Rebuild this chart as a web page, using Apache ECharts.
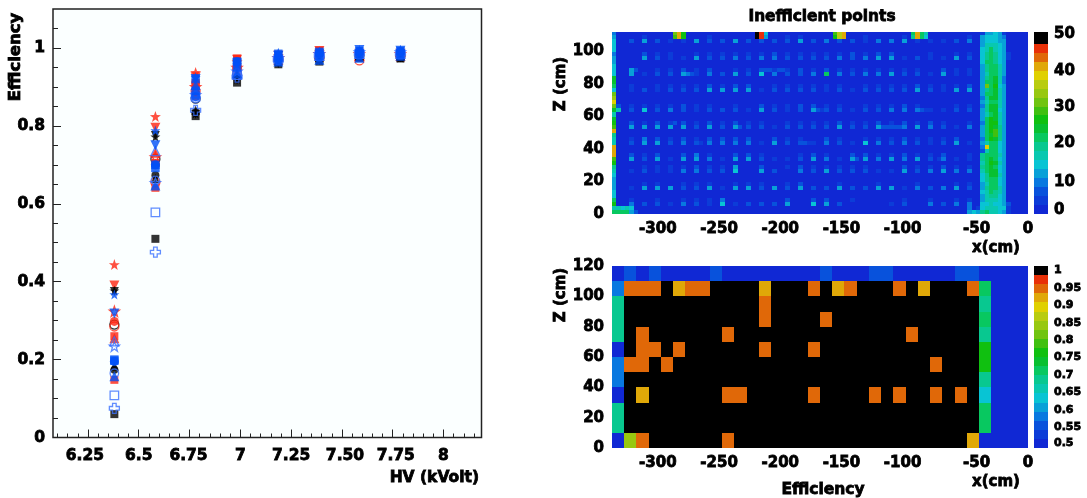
<!DOCTYPE html>
<html>
<head>
<meta charset="utf-8">
<script src="https://cdn.jsdelivr.net/npm/echarts@6/dist/echarts.min.js"></script>
<style>
html,body{margin:0;padding:0;background:#fff;}
#c{width:1087px;height:498px;filter:blur(0.4px);}
</style>
</head>
<body>
<div id="c"></div>
<script>
// ---------- left panel: efficiency vs HV ----------
const hv = [6.38, 6.582, 6.78, 6.984, 7.187, 7.389, 7.586, 7.788];
const blackSquare    = [.06,.51,.825,.911,.958,.965,.975,.973];
const blackInvTri    = [.375,.775,.83,.918,.96,.968,.978,.975];
const blackStar      = [.377,.772,.832,.92,.965,.97,.98,.975];
const blackTriangle  = [.183,.665,.84,.93,.97,.975,.98,.98];
const blackCircle    = [.174,.673,.835,.925,.965,.97,.98,.975];
const blackOpenCircle= [.29,.715,.87,.93,.97,.975,.98,.98];
const redOpenStar    = [.324,.72,.9,.95,.975,.985,.985,.985];
const redOpenCircle  = [.285,.655,.89,.945,.97,.975,.968,.98];
const redStar        = [.444,.824,.937,.965,.98,.99,.985,.985];
const redInvTri      = [.39,.795,.925,.97,.98,.992,.985,.985];
const redSquare      = [.26,.705,.91,.973,.975,.993,.985,.98];
const redSquareLow   = [.148,.641,.877,.94,.97,.975,.975,.975];
const redCircle      = [.298,.7,.91,.955,.97,.98,.98,.98];
const redTriangle    = [.255,.731,.895,.95,.97,.98,.98,.98];
const blueOpenCross  = [.075,.476,.84,.925,.97,.98,.985,.985];
const blueOpenSquare = [.108,.578,.875,.93,.97,.98,.985,.985];
const blueOpenStar   = [.234,.654,.88,.94,.975,.985,.99,.99];
const blueOpenTri    = [.247,.735,.885,.945,.975,.98,.985,.985];
const blueOpenCircle = [.165,.66,.87,.93,.975,.98,.99,.985];
const blueSquare     = [.2,.692,.89,.95,.975,.98,.985,.985];
const blueSquareHigh = [.197,.7,.92,.965,.985,.99,.992,.992];
const blueCircle     = [.195,.7,.875,.965,.97,.985,.99,.99];
const blueTriangle   = [.157,.647,.905,.935,.965,.97,.975,.98];
const blueInvTri     = [.318,.75,.92,.96,.98,.985,.995,.993];
const blueStar       = [.367,.788,.925,.958,.988,.99,.99,.995];

const hvTickValues = [6.25,6.5,6.75,7,7.25,7.5,7.75,8];
const hvLabelPos   = [6.235,6.5,6.745,7,7.25,7.515,7.765,8];
const hvLabelText  = ['6.25','6.5','6.75','7','7.25','7.50','7.75','8'];
const effTickValues = [0,.2,.4,.6,.8,1];

// ---------- top right panel: inefficient points (cells of 2 hits per character) ----------
const hitCols = 96, hitRows = 45, hitColCm = 340/96, hitRowCm = 2.5;
const hitDotRows = {
  42:'1363226336'+'3333634332'+'44522234',
  38:'1153225334'+'3443333434'+'66232253',
  34:'1623352435'+'374334a434'+'45332622',
  30:'1232333555'+'5233332323'+'33353255',
  25:'8373432333'+'2532353323'+'34442233',
  21:'1555553636'+'3323333533'+'63454324',
  17:'1366343444'+'4253324327'+'43432352',
  13:'1535255426'+'5322354255'+'45453422',
  10:'1232244337'+'1631436333'+'22634544',
  6: '1265533525'+'5353633633'+'55243453',
  2: '1433243272'+'3335176311'+'12314344'
};
const hitDotRowsUpper = {
  43:'1121121211'+'1212211212'+'11211112',
  39:'1132212222'+'2232222232'+'33112122',
  35:'1612232312'+'2322323222'+'22221322',
  31:'1212222323'+'3122222212'+'22232223',
  26:'3222232212'+'1322332212'+'22321122',
  22:'1323232323'+'2212222322'+'32323212',
  18:'1243232333'+'3132213212'+'22322231',
  14:'1323134213'+'3211232133'+'22322312',
  11:'1122223225'+'1312322222'+'11322322',
  7: '1122122212'+'2212311211'+'21121122',
  3: '1212122241'+'1113133121'+'11212122'
};
const hitLeftEdge = [20,16,26,22,14,14,12,12,12,14,16,18,26,28,40,42,40,16,16,18,42,28,26,24,16,24,30,38,34,30,14,22,24,24,14,14,14,12,12,8,13,14,13,12,8];
const hitBand = ['69a88762','27888772','17787763','16888761','16899751','178a9861','169aa861','168aa751','179ba761','179cc861','18acc751','19bcb751','18bdc851','19acb751','19bbb861','138bb761','14jba751','158ba751','14adc961','15ace961','15ade961','15bdc951','14bdd851','15adc861','158bc861','159cc761','149cc861','158bb851','149cc861','15abc861','159bc851','16gbd751','15abc841','159bc841','158bb851','169bb851','169ba851','17aa9751','179a9752','179a9752','178a8761','16888761','16777651','16777641','12657621'];
const hitCellsExtra = [[14,44,30],[15,44,40],[16,44,27],[33,44,50],[34,44,46],[35,44,13],[51,44,28],[52,44,37],[53,44,40],[69,44,20],[70,44,42],[71,44,22],[72,44,17],
  [14,43,28],[15,43,40],[16,43,25],[33,43,50],[34,43,46],[35,43,12],[51,43,26],[52,43,37],[53,43,40],[69,43,18],[70,43,42],[71,43,20],[72,43,14],
  [1,1,16],[2,1,14],[3,1,15],[4,1,13],[1,0,20],[2,0,22],[3,0,20],[4,0,10],[5,0,6],[82,0,12],[83,0,14],[82,1,8],
  [5,35,6],[35,35,6],[36,35,6],[38,35,6],[39,35,6],[17,34,8],[18,34,5],[62,21,6],[63,21,6],[65,21,6],[66,21,6],[14,22,5],[44,17,5],[45,17,4],[47,25,5],[48,25,4],[71,25,6],[72,25,4],[20,17,4],[56,13,6],[75,13,4],[29,21,5]];

// ---------- bottom right panel: efficiency map ----------
const effCodes = {'#':1,o:.94,g:.91,l:.83,b:.5,s:.56,u:.6,t:.68,e:.72,v:.76,c:.64};
const effRowsFromTop = [
 'bsbsbbbbsbbbbbbbbsbbbssbbbbbssbbbb',
 'uooo#goo####g###o#go###o#g###oebbb',
 't###########o#################tbbb',
 't###########o####o############ebbb',
 't#o######o##############o#####tbbb',
 'b#oo#o######o###o#############vbbb',
 'uoo#o#####################o###vbbb',
 'u#############################tbbb',
 'b#g######oo#####o####o#o##o#o#cbbb',
 't#############################ebbb',
 't#############################ebbb',
 'blo######o###################gbbbb'
];

// ---------- colour scale and its labels ----------
const palette = ['#1028d4','#0c3cd8','#0852dc','#0878e0','#08a0d8','#08c4d4','#08c8b0','#08c890','#08c860','#08c030','#10c010','#40c010','#70c410','#98c810','#b8cc10','#e0d000','#e0a808','#e06808','#e83008','#000000'];
const hitBarLabels = [0,10,20,30,40,50];
const hitBarLabelPos = [1.2,8.8,19.9,29.7,39.8,50.2];
const hitBarTicks = [10,20,30,40];
const effBarLabels = ['0.5','0.55','0.6','0.65','0.7','0.75','0.8','0.85','0.9','0.95','1'];
const effBarLabelPos = [.512,.5575,.6038,.6523,.7,.7491,.7956,.844,.8923,.9387,.989];
const effBarTicks = [.55,.6,.65,.7,.75,.8,.85,.9,.95];
const xcmLabelPos = [-302.5,-252.5,-202.5,-152.5,-102.5,-42,0];
const xcmLabelText = ['-300','-250','-200','-150','-100','-50','0'];
const zTopLabels = [0,20,40,60,80,100];
const zBottomLabels = [0,20,40,60,80,100,120];

// ---------- helpers ----------
const FONT = 'DejaVu Sans';
const txt = (size) => ({fontFamily:FONT,fontWeight:'bold',fontSize:size,color:'#000',textBorderColor:'#000',textBorderWidth:0.8});
const nearestText = (posList, textList) => (v) => {
  let best = 0;
  posList.forEach((p,i)=>{ if (Math.abs(p-v) < Math.abs(posList[best]-v)) best = i; });
  return String(textList[best]);
};
const stepList = (from,to,step) => { const out=[]; for (let i=0; from+i*step <= to+1e-9; i++) out.push(+(from+i*step).toFixed(4)); return out; };

const STAR = 'path://M5,0L6.18,3.38L9.76,3.46L6.9,5.62L7.94,9.05L5,7L2.06,9.05L3.1,5.62L0.24,3.46L3.82,3.38Z';
const CROSS = 'path://M3.2,0H6.8V3.2H10V6.8H6.8V10H3.2V6.8H0V3.2H3.2Z';
const RED='#ff2410', BLUE='#0050f8', OPENBLUE='#3a70ff', BLACK='#000';
const filled=(name,vals,color,symbol,size,rot)=>({name,vals,color,symbol,size:size||9,rot:rot||0,open:false});
const open=(name,vals,color,symbol,size)=>({name,vals,color,symbol,size:size||9,rot:0,open:true});
const scatterDefs = [
  open('black open circle',blackOpenCircle,BLACK,'circle'),
  open('red open star',redOpenStar,RED,STAR,10),
  open('red open circle',redOpenCircle,RED,'circle'),
  filled('red star',redStar,RED,STAR,11),
  filled('red down',redInvTri,RED,'triangle',10,180),
  filled('red square',redSquare,RED,'rect',8),
  filled('red square low',redSquareLow,RED,'rect',8),
  filled('red circle',redCircle,RED,'circle',9),
  filled('red triangle',redTriangle,RED,'triangle',10),
  filled('black square',blackSquare,BLACK,'rect',8),
  filled('black down',blackInvTri,BLACK,'triangle',9,180),
  filled('black star',blackStar,BLACK,STAR,10),
  filled('black triangle',blackTriangle,BLACK,'triangle',9),
  filled('black circle',blackCircle,BLACK,'circle',8),
  open('blue cross',blueOpenCross,OPENBLUE,CROSS,10),
  open('blue open square',blueOpenSquare,OPENBLUE,'rect',8.5),
  open('blue open star',blueOpenStar,OPENBLUE,STAR,10),
  open('blue open triangle',blueOpenTri,OPENBLUE,'triangle',9),
  open('blue open circle',blueOpenCircle,OPENBLUE,'circle',8.5),
  filled('blue square',blueSquare,BLUE,'rect',8.5),
  filled('blue square high',blueSquareHigh,BLUE,'rect',8.5),
  filled('blue circle',blueCircle,BLUE,'circle',9),
  filled('blue triangle',blueTriangle,BLUE,'triangle',10),
  filled('blue down',blueInvTri,BLUE,'triangle',10,180),
  filled('blue star',blueStar,BLUE,STAR,10)
];
const scatterSeries = scatterDefs.map((d,i)=>({
  type:'scatter', name:d.name, xAxisIndex:0, yAxisIndex:0, z:2+i*0.01,
  symbol:d.symbol, symbolSize:d.size, symbolRotate:d.rot,
  data:hv.map((x,k)=>[x,d.vals[k]]),
  itemStyle:d.open?{color:'transparent',borderColor:d.color,borderWidth:1.3}:{color:d.color}
}));

// build cells
const hitGrid = [];
for (let b=0;b<hitRows;b++){ hitGrid.push(new Array(hitCols).fill(1)); }
const applyDots = (rows)=>Object.keys(rows).forEach(b=>{
  [...rows[b]].forEach((ch,k)=>{ hitGrid[+b][1+3*k] = parseInt(ch,36)*2; });
});
applyDots(hitDotRows); applyDots(hitDotRowsUpper);
hitLeftEdge.forEach((v,b)=>{ hitGrid[b][0]=v; });
hitBand.forEach((s,b)=>{ [...s].forEach((ch,k)=>{ hitGrid[b][84+k]=parseInt(ch,36)*2; }); });
hitCellsExtra.forEach(([c,b,v])=>{ hitGrid[b][c]=v; });
const hitCells = [];
hitGrid.forEach((row,b)=>row.forEach((v,c)=>{
  hitCells.push([-340+c*hitColCm,-340+(c+1)*hitColCm,b*hitRowCm,(b+1)*hitRowCm,v]);
}));
const effCells = [];
effRowsFromTop.forEach((s,r)=>{
  const lo = 110-r*10;
  [...s].forEach((ch,c)=>effCells.push([-340+c*10,-330+c*10,lo,lo+10,effCodes[ch]]));
});
const hitBarCells = palette.map((_,i)=>[0,1,i*2.5,i===19?50.8:(i+1)*2.5,i*2.5+1]);
const effBarCells = palette.map((_,i)=>[0,1,.5+i*.025,.5+(i+1)*.025,.5+i*.025+.01]);

const hitColor = v=>palette[Math.min(19,Math.floor(v/2.5))];
const effColor = v=>palette[Math.min(19,Math.floor((v-.5)/.025))];
const renderCell = colorOf => (params,api)=>{
  const a = api.coord([api.value(0),api.value(2)]);
  const b = api.coord([api.value(1),api.value(3)]);
  const cs = params.coordSys;
  const x0=Math.round(a[0]), x1=Math.round(b[0]), y0=Math.round(b[1]), y1=Math.round(a[1]);
  const shape = echarts.graphic.clipRectByRect({x:x0,y:y0,width:x1-x0,height:y1-y0},{x:cs.x,y:cs.y,width:cs.width,height:cs.height});
  return shape && {type:'rect',shape,style:{fill:colorOf(api.value(4))}};
};
const cellSeries=(data,colorOf,xi,yi)=>({type:'custom',data,xAxisIndex:xi,yAxisIndex:yi,coordinateSystem:'cartesian2d',encode:{x:[0,1],y:[2,3]},renderItem:renderCell(colorOf),silent:true,progressive:0});

const hidden={show:false};
const baseAxis=(o)=>Object.assign({type:'value',splitLine:hidden,axisLine:{show:false,onZero:false},axisTick:hidden,axisLabel:hidden},o);
const tickLine={color:'#222',width:1};
const heatTick={color:'rgba(0,0,40,0.75)',width:1};
const titleStyle=(text,size,extra)=>Object.assign({text,align:'center',verticalAlign:'middle',font:'bold '+size+'px "DejaVu Sans"',fill:'#000',stroke:'#000',lineWidth:0.8},extra||{});

const option={
  animation:false,
  backgroundColor:'#fff',
  grid:[
    {left:53,top:9,width:428.5,height:428.5,show:true,backgroundColor:'#fbffff',borderColor:'#222',borderWidth:1.5},
    {left:612,top:32,width:416,height:182},
    {left:612,top:266,width:416,height:182},
    {left:1034,top:32,width:14,height:182},
    {left:1034,top:266,width:14,height:182}
  ],
  xAxis:[
    baseAxis({gridIndex:0,position:'bottom',min:6.078,max:8.187,
      axisTick:{show:true,inside:true,length:8,lineStyle:tickLine,customValues:hvTickValues},
      axisLabel:{show:true,margin:10,customValues:hvLabelPos,formatter:nearestText(hvLabelPos,hvLabelText),...txt(15.5)}}),
    baseAxis({gridIndex:0,position:'bottom',min:6.078,max:8.187,
      axisTick:{show:true,inside:true,length:4,lineStyle:tickLine,customValues:stepList(6.1,8.15,.05)}}),
    baseAxis({gridIndex:1,position:'bottom',min:-340,max:0,
      axisTick:{show:true,inside:true,length:3,lineStyle:heatTick,customValues:stepList(-330,-10,10)},
      axisLabel:{show:true,margin:8,customValues:xcmLabelPos,formatter:nearestText(xcmLabelPos,xcmLabelText),...txt(15)}}),
    baseAxis({gridIndex:2,position:'bottom',min:-340,max:0,
      axisTick:{show:true,inside:true,length:3,lineStyle:heatTick,customValues:stepList(-330,-10,10)},
      axisLabel:{show:true,margin:8,customValues:xcmLabelPos,formatter:nearestText(xcmLabelPos,xcmLabelText),...txt(15)}}),
    baseAxis({gridIndex:3,position:'bottom',min:0,max:1}),
    baseAxis({gridIndex:4,position:'bottom',min:0,max:1})
  ],
  yAxis:[
    baseAxis({gridIndex:0,position:'left',min:0,max:1.1,
      axisTick:{show:true,inside:true,length:8,lineStyle:tickLine,customValues:effTickValues},
      axisLabel:{show:true,margin:8,customValues:effTickValues,formatter:v=>String(v),...txt(15.5)}}),
    baseAxis({gridIndex:0,position:'left',min:0,max:1.1,
      axisTick:{show:true,inside:true,length:5,lineStyle:tickLine,customValues:stepList(.05,1.05,.05)}}),
    baseAxis({gridIndex:1,position:'left',min:0,max:112,
      axisTick:{show:true,inside:true,length:3,lineStyle:heatTick,customValues:stepList(4,108,4)},
      axisLabel:{show:true,margin:8,customValues:zTopLabels,formatter:v=>String(v),...txt(15)}}),
    baseAxis({gridIndex:2,position:'left',min:0,max:120,
      axisTick:{show:true,inside:true,length:3,lineStyle:heatTick,customValues:stepList(4,116,4)},
      axisLabel:{show:true,margin:8,customValues:zBottomLabels,formatter:v=>String(v),...txt(15)}}),
    baseAxis({gridIndex:3,position:'right',min:0,max:50.8,
      axisTick:{show:true,inside:true,length:14,lineStyle:{color:'rgba(0,40,0,0.55)',width:1},customValues:hitBarTicks},
      axisLabel:{show:true,margin:6,customValues:hitBarLabelPos,formatter:nearestText(hitBarLabelPos,hitBarLabels),...txt(15)}}),
    baseAxis({gridIndex:4,position:'right',min:.5,max:1,
      axisTick:{show:true,inside:true,length:14,lineStyle:{color:'rgba(0,40,0,0.55)',width:1},customValues:effBarTicks},
      axisLabel:{show:true,margin:6,customValues:effBarLabelPos,formatter:nearestText(effBarLabelPos,effBarLabels),...txt(11)}})
  ],
  series:[
    ...scatterSeries,
    cellSeries(hitCells,hitColor,2,2),
    cellSeries(effCells,effColor,3,3),
    cellSeries(hitBarCells,hitColor,4,4),
    cellSeries(effBarCells,effColor,5,5)
  ],
  graphic:[
    {type:'text',x:16,y:57,rotation:Math.PI/2,style:titleStyle('Efficiency',16.5)},
    {type:'text',x:479,y:478,style:titleStyle('HV (kVolt)',15.5,{align:'right'})},
    {type:'text',x:822,y:17,style:titleStyle('Inefficient points',15.4)},
    {type:'text',x:561,y:84,rotation:Math.PI/2,style:titleStyle('Z (cm)',15)},
    {type:'text',x:561,y:295,rotation:Math.PI/2,style:titleStyle('Z (cm)',15)},
    {type:'text',x:996,y:248,style:titleStyle('x(cm)',15)},
    {type:'text',x:996,y:482,style:titleStyle('x(cm)',15)},
    {type:'text',x:823,y:490,style:titleStyle('Efficiency',15.5)}
  ]
};
const chart=echarts.init(document.getElementById('c'),null,{renderer:'canvas',width:1087,height:498});
chart.setOption(option);
</script>
</body>
</html>
